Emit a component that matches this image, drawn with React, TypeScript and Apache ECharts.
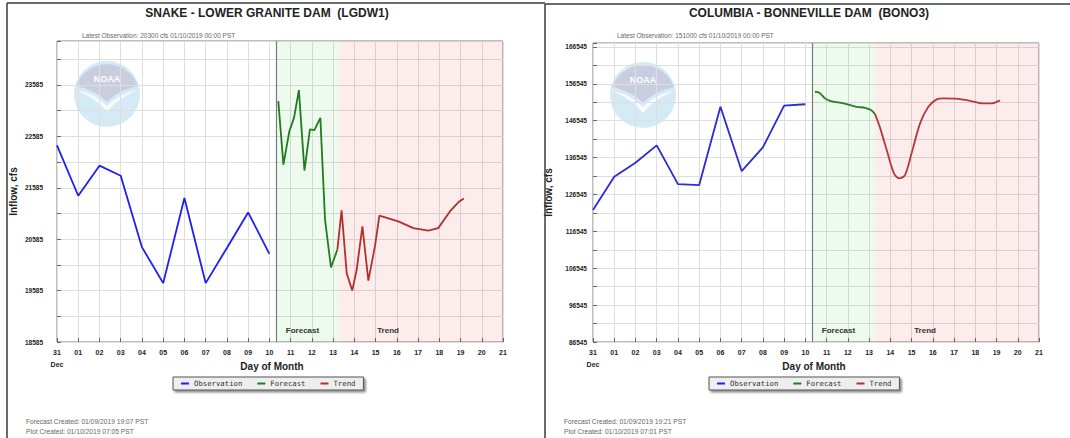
import React, { useEffect, useRef } from "react";
import * as echarts from "echarts";

// ---------- data ----------
const xTickLabels = ["31", "01", "02", "03", "04", "05", "06", "07", "08", "09", "10", "11", "12", "13", "14", "15", "16", "17", "18", "19", "20", "21"];
const legendNames = ["Observation", "Forecast", "Trend"];

const obsDays = [0, 1, 2, 3, 4, 5, 6, 7, 8, 9, 10];

// Snake - Lower Granite Dam
const snakeYTicks = [18585, 19585, 20585, 21585, 22585, 23585];
const snakeObs = [22410, 21430, 22015, 21820, 20430, 19730, 21385, 19730, 20415, 21105, 20300];
const snakeForecastX = [10.42, 10.66, 10.94, 11.16, 11.39, 11.65, 11.91, 12.12, 12.4, 12.62, 12.9, 13.2];
const snakeForecastY = [23270, 22035, 22685, 22945, 23485, 21920, 22720, 22705, 22945, 20965, 20035, 20380];
const snakeTrendX = [13.2, 13.4, 13.64, 13.9, 14.11, 14.38, 14.66, 14.97, 15.18, 16.07, 16.78, 17.48, 17.95, 18.5, 18.94, 19.16];
const snakeTrendY = [20380, 21145, 19925, 19585, 19990, 20835, 19780, 20445, 21045, 20930, 20800, 20750, 20800, 21125, 21320, 21375];

// Columbia - Bonneville Dam
const colYTicks = [86545, 96545, 106545, 116545, 126545, 136545, 146545, 156545, 166545];
const colObs = [122320, 131340, 135140, 139850, 129360, 129090, 150310, 132890, 139310, 150600, 151000];
const colForecastX = [10.45, 10.66, 10.92, 11.16, 11.79, 12.41, 12.81, 13.09, 13.28];
const colForecastY = [154380, 154100, 152590, 151940, 151230, 150310, 150040, 149420, 148330];
const colTrendX = [13.28, 13.51, 13.83, 14.17, 14.42, 14.69, 15.0, 15.4, 15.79, 16.18, 16.49, 17.04, 17.75, 18.38, 18.77, 19.16];
const colTrendY = [148330, 144730, 138580, 132260, 130910, 131800, 137680, 145810, 150310, 152320, 152590, 152500, 151940, 151230, 151230, 152050];

const forecastStart = 10.31;
const trendStart = 13.28;
const axisEnd = 21;

const pairs = (xs: number[], ys: number[]) => xs.map((x, i) => [x, ys[i]]);

// ---------- logo shapes ----------
echarts.graphic.registerShape(
  "noaaTop",
  echarts.graphic.extendPath("M -31 -8 A 33 33 0 0 1 31 -8 C 18 -5 8 0 2 6 L 0 8 L -2 6 C -8 0 -18 -5 -31 -8 Z", {})
);
echarts.graphic.registerShape(
  "noaaBird",
  echarts.graphic.extendPath("M -31 -4 C -18 -2 -8 4 0 12 C 8 4 18 -2 31 -4 C 18 1 8 8 0 18 C -8 8 -18 1 -31 -4 Z", {})
);

const FONT = "'Liberation Sans', Arial, sans-serif";

function logo(cx: number, cy: number) {
  return {
    type: "group",
    x: cx,
    y: cy,
    z: 1,
    children: [
      { type: "circle", shape: { cx: 0, cy: 0, r: 33 }, style: { fill: "#d4ebf6" } },
      { type: "noaaTop", x: 0, y: 0, style: { fill: "#c9cddf" } },
      { type: "noaaBird", x: 0, y: 0, style: { fill: "#ffffff", opacity: 0.8 } },
      {
        type: "text",
        x: 0,
        y: -15,
        style: { text: "NOAA", fill: "#ffffff", font: `bold 9px ${FONT}`, textAlign: "center", textVerticalAlign: "middle" },
      },
    ],
  };
}

type Cfg = {
  gridLeft: number;
  gridTop: number;
  yMin: number;
  yMax: number;
  yStep: number;
  yTicks: number[];
  yLabelMargin: number;
  yNameGap: number;
  obs: number[];
  fX: number[];
  fY: number[];
  tX: number[];
  tY: number[];
  obsColor: string;
  fColor: string;
  tColor: string;
  smooth: number | boolean;
  fLabelOffset: number;
  tLabelOffset: number;
};

function build(idx: number, c: Cfg) {
  const grid = {
    left: c.gridLeft,
    top: c.gridTop,
    width: 446,
    height: 342 - c.gridTop,
    show: true,
    backgroundColor: "#ffffff",
    borderColor: "#7d7d7d",
    borderWidth: 1,
  };
  const xAxis = {
    type: "value",
    gridIndex: idx,
    min: 0,
    max: 21,
    interval: 1,
    axisLine: { show: false },
    axisTick: { show: true, inside: true, length: 4, lineStyle: { color: "#666" } },
    splitLine: { show: true, lineStyle: { color: "#dedede", width: 1 } },
    axisLabel: {
      interval: 0,
      showMinLabel: true,
      showMaxLabel: true,
      margin: 4,
      fontFamily: FONT,
      fontSize: 7,
      fontWeight: "bold",
      color: "#222",
      lineHeight: 12,
      formatter: (v: number) => {
        const i = Math.round(v);
        const t = xTickLabels[i] ?? "";
        return i === 0 ? t + "\nDec" : t;
      },
    },
  };
  const yAxis = {
    type: "value",
    gridIndex: idx,
    min: c.yMin,
    max: c.yMax,
    interval: c.yStep,
    name: "Inflow, cfs",
    nameLocation: "middle",
    nameRotate: 90,
    nameGap: c.yNameGap,
    nameMoveOverlap: false,
    nameTextStyle: { fontFamily: FONT, fontSize: 10, fontWeight: "bold", color: "#222" },
    axisLine: { show: false },
    axisTick: { show: true, inside: true, length: 4, lineStyle: { color: "#666" } },
    splitLine: { show: true, lineStyle: { color: "#dedede", width: 1 } },
    axisLabel: {
      margin: c.yLabelMargin,
      fontFamily: FONT,
      fontSize: 6.5,
      fontWeight: "bold",
      color: "#222",
      formatter: (v: number) => (c.yTicks.includes(Math.round(v)) ? String(Math.round(v)) : ""),
    },
  };
  const labelBase = {
    show: true,
    position: "insideBottom",
    distance: 8,
    fontFamily: FONT,
    fontSize: 8,
    fontWeight: "bold",
    color: "#333",
  };
  const series = [
    {
      name: "Observation",
      type: "line",
      xAxisIndex: idx,
      yAxisIndex: idx,
      data: pairs(obsDays, c.obs),
      symbol: "none",
      z: 5,
      itemStyle: { color: c.obsColor },
      lineStyle: { color: c.obsColor, width: 1.8 },
      markArea: {
        silent: true,
        data: [
          [
            {
              xAxis: forecastStart,
              itemStyle: { color: "rgba(0,190,0,0.07)" },
              label: { ...labelBase, formatter: "Forecast", offset: [c.fLabelOffset, 0] },
            },
            { xAxis: trendStart },
          ],
          [
            {
              xAxis: trendStart,
              itemStyle: { color: "rgba(230,0,0,0.075)" },
              label: { ...labelBase, formatter: "Trend", offset: [c.tLabelOffset, 0] },
            },
            { xAxis: axisEnd },
          ],
        ],
      },
      markLine: {
        silent: true,
        symbol: ["none", "none"],
        label: { show: false },
        lineStyle: { color: "#7a7a7a", type: "solid", width: 1.2 },
        data: [{ xAxis: forecastStart }],
      },
    },
    {
      name: "Forecast",
      type: "line",
      xAxisIndex: idx,
      yAxisIndex: idx,
      data: pairs(c.fX, c.fY),
      symbol: "none",
      smooth: c.smooth,
      z: 5,
      itemStyle: { color: c.fColor },
      lineStyle: { color: c.fColor, width: 1.8 },
    },
    {
      name: "Trend",
      type: "line",
      xAxisIndex: idx,
      yAxisIndex: idx,
      data: pairs(c.tX, c.tY),
      symbol: "none",
      smooth: c.smooth,
      z: 5,
      itemStyle: { color: c.tColor },
      lineStyle: { color: c.tColor, width: 1.8 },
    },
  ];
  const legend = {
    data: legendNames,
    left: c.gridLeft + 116,
    top: 377,
    orient: "horizontal",
    icon: "rect",
    itemWidth: 8,
    itemHeight: 2,
    itemGap: 15,
    selectedMode: false,
    padding: [3, 8, 3, 8],
    backgroundColor: "#eeeeee",
    borderColor: "#555555",
    borderWidth: 1,
    shadowColor: "rgba(0,0,0,0.45)",
    shadowBlur: 2,
    shadowOffsetX: 2,
    shadowOffsetY: 2,
    textStyle: { fontFamily: "'DejaVu Sans Mono', monospace", fontSize: 7.3, color: "#333" },
  };
  return { grid, xAxis, yAxis, series, legend };
}

const snake = build(0, {
  gridLeft: 57,
  gridTop: 41,
  yMin: 18585,
  yMax: 24440,
  yStep: 500,
  yTicks: snakeYTicks,
  yLabelMargin: 14,
  yNameGap: 39,
  obs: snakeObs,
  fX: snakeForecastX,
  fY: snakeForecastY,
  tX: snakeTrendX,
  tY: snakeTrendY,
  obsColor: "#1f1ff2",
  fColor: "#1f7d1f",
  tColor: "#b23030",
  smooth: false,
  fLabelOffset: -5,
  tLabelOffset: -33,
});

const columbia = build(1, {
  gridLeft: 593,
  gridTop: 43,
  yMin: 86545,
  yMax: 167600,
  yStep: 5000,
  yTicks: colYTicks,
  yLabelMargin: 6,
  yNameGap: 40,
  obs: colObs,
  fX: colForecastX,
  fY: colForecastY,
  tX: colTrendX,
  tY: colTrendY,
  obsColor: "#2b2bd0",
  fColor: "#2a7d2a",
  tColor: "#b23a3a",
  smooth: 0.3,
  fLabelOffset: -5,
  tLabelOffset: -32,
});

function txt(x: number, y: number, text: string, font: string, fill: string, align = "left") {
  return {
    type: "text",
    x,
    y,
    z: 10,
    style: { text, font, fill, textAlign: align, textVerticalAlign: "middle" },
  };
}

const graphicEls = [
  // panel borders
  { type: "line", z: 10, shape: { x1: 7, y1: 3, x2: 7, y2: 438 }, style: { stroke: "#3a3a3a", lineWidth: 1.5 } },
  { type: "line", z: 10, shape: { x1: 7, y1: 3, x2: 545, y2: 3 }, style: { stroke: "#3a3a3a", lineWidth: 1.5 } },
  { type: "line", z: 10, shape: { x1: 545, y1: 4, x2: 545, y2: 438 }, style: { stroke: "#3a3a3a", lineWidth: 1.5 } },
  { type: "line", z: 10, shape: { x1: 545, y1: 4, x2: 1070, y2: 4 }, style: { stroke: "#3a3a3a", lineWidth: 1.5 } },
  // titles
  txt(267, 13, "SNAKE - LOWER GRANITE DAM  (LGDW1)", `bold 12px ${FONT}`, "#222", "center"),
  txt(809, 13, "COLUMBIA - BONNEVILLE DAM  (BONO3)", `bold 12px ${FONT}`, "#222", "center"),
  txt(82, 35, "Latest Observation: 20300 cfs 01/10/2019 00:00 PST", `6.5px ${FONT}`, "#666"),
  txt(617, 35, "Latest Observation: 151000 cfs 01/10/2019 00:00 PST", `6.5px ${FONT}`, "#666"),
  // x-axis names
  txt(272, 366, "Day of Month", `bold 10px ${FONT}`, "#222", "center"),
  txt(814, 366, "Day of Month", `bold 10px ${FONT}`, "#222", "center"),
  // footers
  txt(26, 421, "Forecast Created: 01/09/2019 19:07 PST", `6.7px ${FONT}`, "#666"),
  txt(26, 431, "Plot Created: 01/10/2019 07:05 PST", `6.7px ${FONT}`, "#666"),
  txt(564, 421, "Forecast Created: 01/09/2019 19:21 PST", `6.7px ${FONT}`, "#666"),
  txt(564, 431, "Plot Created: 01/10/2019 07:01 PST", `6.7px ${FONT}`, "#666"),
  // logos
  logo(107, 94),
  logo(643, 95),
];

const option = {
  animation: false,
  backgroundColor: "#ffffff",
  textStyle: { fontFamily: FONT },
  grid: [snake.grid, columbia.grid],
  xAxis: [snake.xAxis, columbia.xAxis],
  yAxis: [snake.yAxis, columbia.yAxis],
  legend: [snake.legend, columbia.legend],
  series: [...snake.series, ...columbia.series],
  graphic: graphicEls,
};

export default function App() {
  const ref = useRef<HTMLDivElement>(null);
  useEffect(() => {
    const chart = echarts.init(ref.current as HTMLDivElement, undefined, { renderer: "svg" });
    chart.setOption(option as any);
    return () => chart.dispose();
  }, []);
  return (
    <div
      ref={ref}
      style={{ position: "fixed", left: 0, top: 0, width: 1070, height: 438, background: "#fff" }}
    />
  );
}
